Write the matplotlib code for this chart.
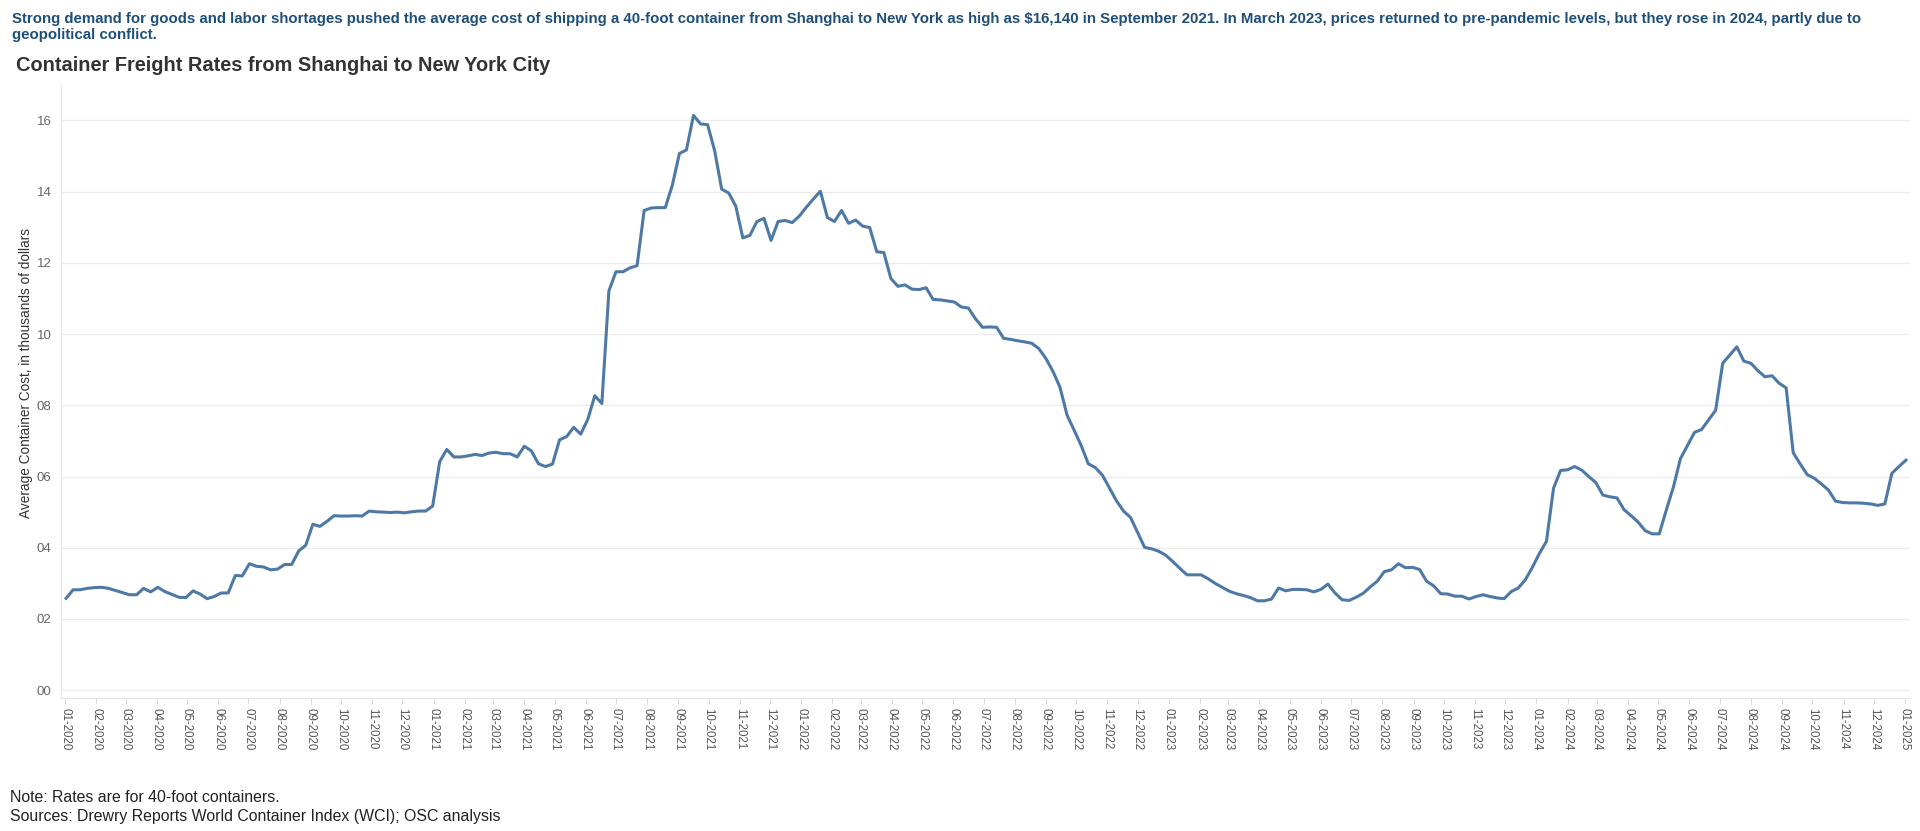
import pandas as pd
import matplotlib.pyplot as plt
import matplotlib.dates as mdates
from matplotlib.ticker import FixedLocator,FuncFormatter

plt.rcParams["font.family"]=["Liberation Sans","DejaVu Sans"]

# weekly WCI Shanghai -> New York, thousands of USD
rates_2020=[
    2.58,2.82,2.82,2.86,2.88,2.89,2.86,2.80,2.74,2.68,
    2.68,2.86,2.76,2.89,2.77,2.69,2.61,2.60,2.79,2.70,
    2.57,2.63,2.73,2.73,3.22,3.21,3.55,3.48,3.46,3.38,
    3.40,3.53,3.53,3.91,4.07,4.66,4.60,4.74,4.90,4.89,
    4.89,4.90,4.89,5.03,5.01,5.00,4.99,5.00,4.98,5.01,
    5.03,5.03,5.17,
]
rates_2021=[
    6.42,6.76,6.55,6.55,6.58,6.62,6.59,6.66,6.68,6.64,
    6.64,6.55,6.85,6.72,6.36,6.28,6.35,7.03,7.12,7.38,
    7.19,7.60,8.27,8.05,11.21,11.75,11.75,11.86,11.92,13.47,
    13.54,13.55,13.55,14.18,15.07,15.17,16.14,15.90,15.88,15.15,
    14.07,13.96,13.59,12.70,12.77,13.16,13.25,12.63,13.16,13.19,
    13.13,13.31,
]
rates_2022=[
    13.56,13.79,14.01,13.27,13.16,13.47,13.11,13.20,13.03,12.99,
    12.31,12.29,11.56,11.34,11.38,11.26,11.25,11.30,10.97,10.96,
    10.93,10.90,10.76,10.73,10.43,10.19,10.20,10.19,9.88,9.85,
    9.81,9.78,9.74,9.59,9.31,8.95,8.50,7.72,7.30,6.87,
    6.36,6.25,6.04,5.68,5.32,5.03,4.85,4.43,4.01,3.97,
    3.90,3.79,
]
rates_2023=[
    3.61,3.42,3.24,3.24,3.24,3.13,3.00,2.89,2.78,2.71,
    2.66,2.60,2.51,2.51,2.56,2.87,2.79,2.83,2.83,2.82,
    2.76,2.83,2.98,2.73,2.54,2.52,2.61,2.72,2.90,3.06,
    3.33,3.38,3.55,3.44,3.45,3.39,3.06,2.93,2.71,2.70,
    2.64,2.64,2.56,2.63,2.68,2.63,2.59,2.57,2.77,2.87,
    3.10,3.45,
]
rates_2024=[
    3.84,4.18,5.67,6.17,6.19,6.28,6.18,6.00,5.83,5.48,
    5.43,5.40,5.07,4.90,4.72,4.48,4.39,4.39,5.06,5.70,
    6.50,6.87,7.24,7.32,7.59,7.86,9.18,9.41,9.64,9.24,
    9.18,8.97,8.80,8.83,8.62,8.49,6.67,6.35,6.05,5.95,
    5.79,5.62,5.31,5.27,5.26,5.26,5.25,5.23,5.19,5.23,
    6.09,6.28,
]
rates_2025=[6.46]

rates=rates_2020+rates_2021+rates_2022+rates_2023+rates_2024+rates_2025
weeks=pd.date_range("2020-01-02",periods=len(rates),freq="7D")

y_ticks=[0,2,4,6,8,10,12,14,16]

subtitle=(
    "Strong demand for goods and labor shortages pushed the average cost of shipping a 40-foot container "
    "from Shanghai to New York as high as $16,140 in September 2021. In March 2023, prices returned to "
    "pre-pandemic levels, but they rose in 2024, partly due to\ngeopolitical conflict."
)
title="Container Freight Rates from Shanghai to New York City"
note="Note: Rates are for 40-foot containers.\nSources: Drewry Reports World Container Index (WCI); OSC analysis"

fig=plt.figure(figsize=(19.2,8.31),dpi=100,facecolor="white")
ax=fig.add_axes([0.0318,0.160,0.963,0.738])

ax.plot(weeks,rates,color="#4e79a7",linewidth=2.2,solid_joinstyle="round")

ax.set_ylim(-0.22,17.0)
ax.set_xlim(pd.Timestamp("2019-12-28"),pd.Timestamp("2025-01-06"))

ax.yaxis.set_major_locator(FixedLocator(y_ticks))
ax.yaxis.set_major_formatter(FuncFormatter(lambda v,p:f"{int(v):02d}"))
ax.grid(axis="y",color="#ebebeb",linewidth=0.9)
ax.set_axisbelow(True)

ax.xaxis.set_major_locator(mdates.MonthLocator())
ax.xaxis.set_major_formatter(mdates.DateFormatter("%m-%Y"))

for side in ["top","right"]:
    ax.spines[side].set_visible(False)
ax.spines["left"].set_color("#e6e6e6")
ax.spines["bottom"].set_color("#e6e6e6")

ax.tick_params(axis="y",length=0,pad=7,labelsize=9.5,labelcolor="#666666")
ax.tick_params(axis="x",length=4,width=0.8,color="#dddddd",pad=3,labelsize=8.3,labelcolor="#555555",labelrotation=270)
for lbl in ax.get_xticklabels():
    lbl.set_va("top")
    lbl.set_ha("center")

ax.set_ylabel("Average Container Cost, in thousands of dollars",fontsize=9.8,color="#333333")
ax.yaxis.set_label_coords(-0.0152,0.53)

fig.text(0.0062,0.986,subtitle,ha="left",va="top",fontsize=10.8,fontweight="bold",color="#1f4e79",linespacing=1.2)
fig.text(0.0085,0.921,title,ha="left",va="center",fontsize=14.4,fontweight="bold",color="#333333")
fig.text(0.0052,0.009,note,ha="left",va="bottom",fontsize=11.4,color="#222222",linespacing=1.3)

fig.savefig("out.png",dpi=100,facecolor="white")
plt.close(fig)
